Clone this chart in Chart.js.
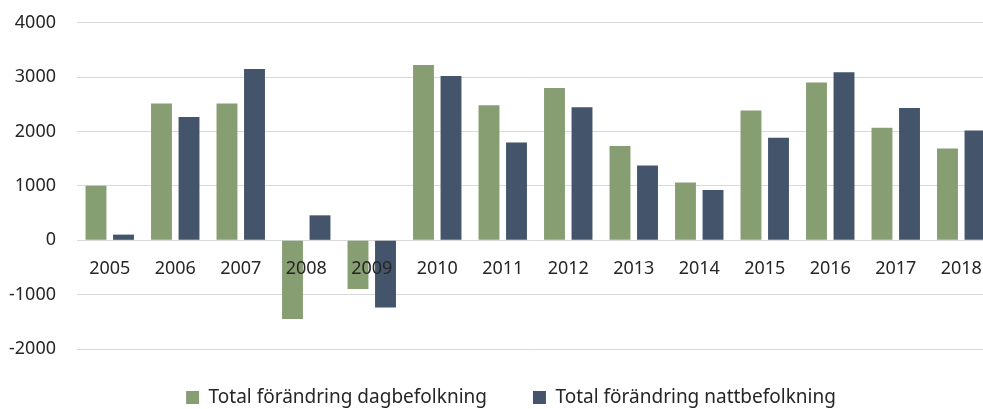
<!DOCTYPE html>
<html>
<head>
<meta charset="utf-8">
<script src="https://cdn.jsdelivr.net/npm/chart.js@4.4.0/dist/chart.umd.min.js"></script>
<style>
  html, body { margin: 0; padding: 0; background: #fff; overflow: hidden; }
  #wrap { width: 1022px; height: 409px; }
</style>
</head>
<body>
<div id="wrap"><canvas id="chartBefolkning"></canvas></div>
<script>
const years = ['2005', '2006', '2007', '2008', '2009', '2010', '2011', '2012', '2013', '2014', '2015', '2016', '2017', '2018'];
const dagbefolkning = [1005, 2520, 2520, -1450, -895, 3225, 2485, 2805, 1735, 1065, 2390, 2905, 2070, 1690];
const nattbefolkning = [105, 2270, 3155, 460, -1235, 3025, 1800, 2450, 1375, 925, 1890, 3095, 2435, 2020];
const yTicks = [-2000, -1000, 0, 1000, 2000, 3000, 4000];

const fontFamily = "'Noto Sans', sans-serif";
const ctx = document.getElementById('chartBefolkning').getContext('2d');

// legend: wide gap between the two items, but a fixed height, nudged into place
const legendPlacement = {
  id: 'legendPlacement',
  beforeInit(chart) {
    const fit = chart.legend.fit;
    chart.legend.fit = function () {
      fit.call(this);
      if (this.isHorizontal()) this.height = 60;
    };
  },
  afterLayout(chart) {
    const lg = chart.legend;
    lg.left += 14; lg.right += 14;
    lg.top -= 7; // bottom stays put, the legend clips to its box
  }
};

const chart = new Chart(ctx, {
  type: 'bar',
  data: {
    labels: years,
    datasets: [{
      label: 'Total förändring dagbefolkning',
      data: dagbefolkning,
      backgroundColor: '#879e72'
    }, {
      label: 'Total förändring nattbefolkning',
      data: nattbefolkning,
      backgroundColor: '#44546a'
    }]
  },
  options: {
    responsive: true,
    maintainAspectRatio: false,
    animation: false,
    layout: { padding: { top: 0, right: 28, left: 0, bottom: 0 } },
    datasets: {
      bar: { categoryPercentage: 0.84, barPercentage: 0.76 }
    },
    plugins: {
      tooltip: { enabled: false },
      legend: {
        position: 'bottom',
        labels: {
          boxWidth: 13,
          boxHeight: 13,
          padding: 46,
          color: '#262626',
          font: { family: fontFamily, size: 19 }
        }
      }
    },
    scales: {
      x: {
        position: { y: 0 },
        grid: { display: false, drawTicks: false },
        border: { display: false },
        ticks: {
          z: 1, // labels sit on top of the bars, as in the original
          padding: 18,
          color: '#262626',
          maxRotation: 0,
          font: { family: fontFamily, size: 18 }
        }
      },
      y: {
        min: -2000,
        max: 4000,
        afterFit: scale => { scale.width = 77; },
        afterBuildTicks: scale => { scale.ticks = yTicks.map(v => ({ value: v })); },
        grid: { color: '#d9d9d9', lineWidth: 1, drawTicks: false },
        border: { display: false },
        ticks: {
          padding: 21,
          color: '#262626',
          // small lineHeight keeps the top overhang (label height/2 + padding) at ~23px
          font: { family: fontFamily, size: 18, lineHeight: 0.22 },
          callback: value => String(value)
        }
      }
    }
  },
  plugins: [legendPlacement]
});
</script>
</body>
</html>
